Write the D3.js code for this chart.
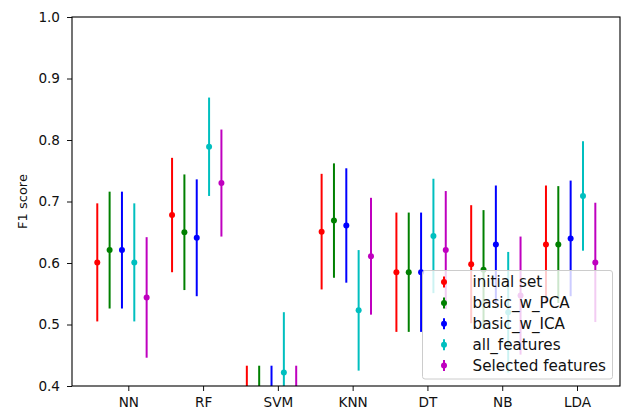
<!DOCTYPE html>
<html>
<head>
<meta charset="utf-8">
<script src="https://cdn.jsdelivr.net/npm/d3@7"></script>
<style>
  body { margin: 0; background: #fff; }
  svg { display: block; font-family: "DejaVu Sans", sans-serif; }
</style>
</head>
<body>
<div id="chart"></div>
<script>
// classifiers on the x axis
const categories = ["NN", "RF", "SVM", "KNN", "DT", "NB", "LDA"];
const yTicks = [0.4, 0.5, 0.6, 0.7, 0.8, 0.9, 1.0];

// mean F1 and error per feature set (SVM values below 0.4 are clipped in the original)
const initialSet = [0.601, 0.678, 0.34, 0.651, 0.585, 0.598, 0.630];
const initialErr = [0.096, 0.093, 0.093, 0.094, 0.097, 0.096, 0.096];
const pcaSet = [0.621, 0.650, 0.34, 0.669, 0.585, 0.589, 0.630];
const pcaErr = [0.095, 0.094, 0.093, 0.093, 0.097, 0.097, 0.095];
const icaSet = [0.621, 0.641, 0.34, 0.661, 0.585, 0.630, 0.640];
const icaErr = [0.095, 0.095, 0.093, 0.093, 0.097, 0.096, 0.094];
const allSet = [0.601, 0.789, 0.422, 0.523, 0.644, 0.520, 0.709];
const allErr = [0.096, 0.080, 0.098, 0.098, 0.093, 0.098, 0.089];
const selSet = [0.544, 0.730, 0.34, 0.611, 0.621, 0.547, 0.601];
const selErr = [0.098, 0.087, 0.093, 0.095, 0.096, 0.096, 0.097];

const seriesNames = ["initial set", "basic_w_PCA", "basic_w_ICA", "all_features", "Selected features"];

const series = [
    { name: seriesNames[0], mean: initialSet, err: initialErr, color: "#ff0000", off: -0.415 },
    { name: seriesNames[1], mean: pcaSet, err: pcaErr, color: "#008000", off: -0.25 },
    { name: seriesNames[2], mean: icaSet, err: icaErr, color: "#0000ff", off: -0.085 },
    { name: seriesNames[3], mean: allSet, err: allErr, color: "#00bfbf", off: 0.08 },
    { name: seriesNames[4], mean: selSet, err: selErr, color: "#bf00bf", off: 0.245 }
];

const W = 622, H = 408;
const plotL = 72, plotR = 620, plotT = 17, plotB = 386;

const svg = d3.select("#chart").append("svg")
    .attr("width", W)
    .attr("height", H);

const x = d3.scaleLinear().domain([-0.753, 6.575]).range([plotL, plotR]);
const y = d3.scaleLinear().domain([0.4, 1.0]).range([plotB, plotT]);

svg.append("clipPath").attr("id", "plotclip")
  .append("rect")
    .attr("x", plotL).attr("y", plotT)
    .attr("width", plotR - plotL).attr("height", plotB - plotT);

const plot = svg.append("g").attr("clip-path", "url(#plotclip)");

series.forEach(s => {
    const g = plot.append("g");
    g.selectAll("line")
        .data(s.mean)
        .join("line")
        .attr("x1", (d, i) => x(i + s.off))
        .attr("x2", (d, i) => x(i + s.off))
        .attr("y1", (d, i) => y(d - s.err[i]))
        .attr("y2", (d, i) => y(d + s.err[i]))
        .attr("stroke", s.color)
        .attr("stroke-width", 2);
    g.selectAll("circle")
        .data(s.mean)
        .join("circle")
        .attr("cx", (d, i) => x(i + s.off))
        .attr("cy", d => y(d))
        .attr("r", 3)
        .attr("fill", s.color);
});

// axes
const xAxis = svg.append("g")
    .attr("transform", `translate(0,${plotB})`)
    .call(d3.axisBottom(x)
        .tickValues(d3.range(categories.length))
        .tickFormat(i => categories[i])
        .tickSize(5)
        .tickPadding(6));

const yAxis = svg.append("g")
    .attr("transform", `translate(${plotL},0)`)
    .call(d3.axisLeft(y)
        .tickValues(yTicks)
        .tickFormat(d3.format(".1f"))
        .tickSize(5)
        .tickPadding(7));

[xAxis, yAxis].forEach(a => {
    a.select(".domain").remove();
    a.selectAll("text")
        .attr("font-family", "DejaVu Sans")
        .attr("font-size", 13.6)
        .attr("fill", "#111");
    a.selectAll(".tick line").attr("stroke", "#111").attr("stroke-width", 1);
});

// frame
svg.append("rect")
    .attr("x", plotL).attr("y", plotT)
    .attr("width", plotR - plotL).attr("height", plotB - plotT)
    .attr("fill", "none")
    .attr("stroke", "#000")
    .attr("stroke-width", 1.1);

svg.append("text")
    .attr("transform", `translate(22,${(plotT + plotB) / 2}) rotate(-90)`)
    .attr("text-anchor", "middle")
    .attr("dy", "0.35em")
    .attr("font-size", 13)
    .attr("fill", "#111")
    .text("F1 score");

// legend
const legend = svg.append("g");
legend.append("rect")
    .attr("x", 422.5).attr("y", 270.5)
    .attr("width", 190).attr("height", 108.5)
    .attr("rx", 2.5)
    .attr("fill", "#fff")
    .attr("fill-opacity", 0.8)
    .attr("stroke", "#cccccc")
    .attr("stroke-width", 1);

const rows = legend.selectAll("g.row")
    .data(series)
    .join("g")
    .attr("class", "row")
    .attr("transform", (d, i) => `translate(444,${282 + i * 20.9})`);

rows.append("line")
    .attr("y1", -5.5).attr("y2", 5.5)
    .attr("stroke", d => d.color)
    .attr("stroke-width", 2);
rows.append("circle")
    .attr("r", 3)
    .attr("fill", d => d.color);
rows.append("text")
    .attr("x", 28.5)
    .attr("dy", "0.36em")
    .attr("font-size", 15.2)
    .attr("fill", "#111")
    .text(d => d.name);
</script>
</body>
</html>
